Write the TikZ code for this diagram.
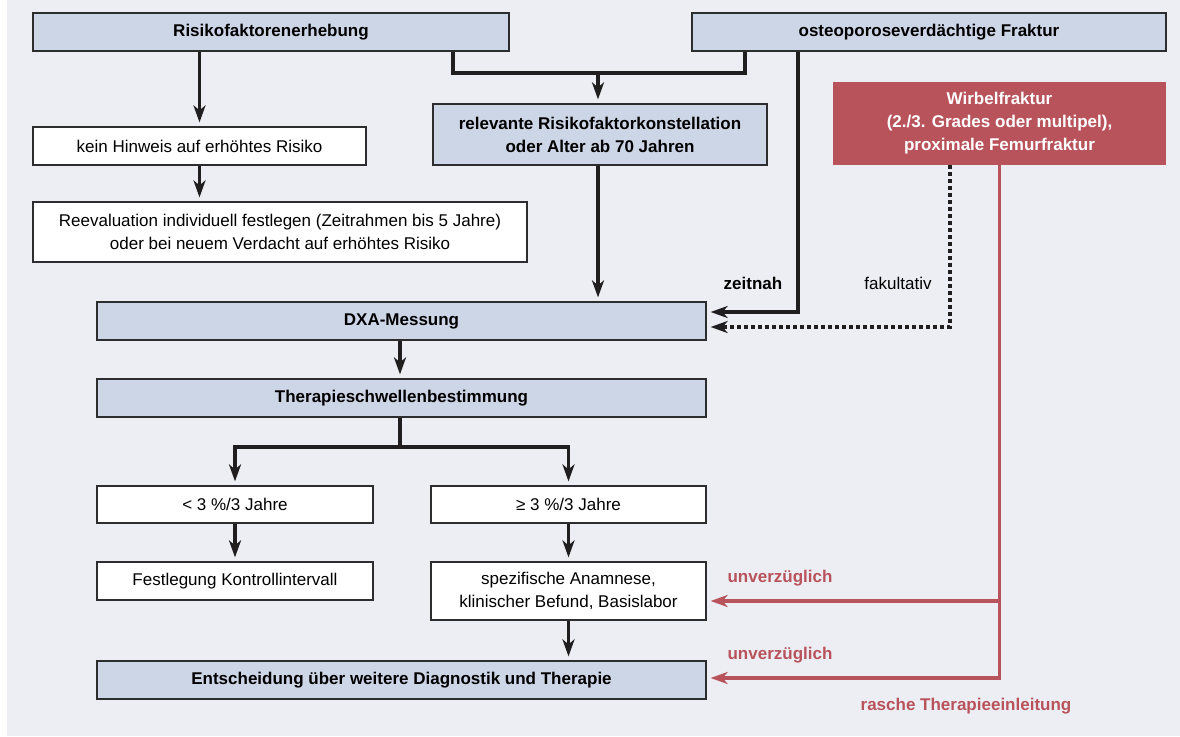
\documentclass[tikz,border=0pt]{standalone}
\usepackage{fontspec}
\setmainfont{Liberation Sans}
\usetikzlibrary{arrows.meta,positioning}
\definecolor{bg_fil}{RGB}{237, 238, 244}
\definecolor{blue_fil}{RGB}{205, 214, 230}
\definecolor{box_out}{RGB}{45, 45, 48}
\definecolor{red_fil}{RGB}{185, 83, 91}
\definecolor{line_col}{RGB}{32, 30, 30}
\newcommand\lw{3.3pt}
\newcommand\hgt{38pt}
\tikzset{blue_box/.style = {rectangle, inner sep=0pt, draw=box_out, fill=blue_fil, line width=1.2pt, align=center, minimum height=\hgt, font=\fontsize{17}{23}\selectfont\bfseries}}
\tikzset{white_box/.style = {blue_box, fill=white, font=\fontsize{17}{23}\selectfont}}
\tikzset{red_box/.style = {rectangle, inner sep=0pt, fill=red_fil, text=white, align=center, font=\fontsize{17}{23}\selectfont\bfseries}}
\tikzset{myline/.style = {line width=\lw, line_col}}
\tikzset{mypath/.style = {myline, -{Stealth[length=17pt,width=12pt,inset=5pt]}, shorten >=4pt}}
\tikzset{redpath/.style = {mypath, red_fil}}
\tikzset{dotpath/.style = {mypath, dash pattern=on 4pt off 3pt}}
\tikzset{lbl/.style = {inner sep=0pt, font=\fontsize{17}{23}\selectfont}}

\begin{document}
\begin{tikzpicture}[x=1pt, y=-1pt]
\useasboundingbox (0,0) rectangle (1180,736);
\fill[white] (0,0) rectangle (1180,736);
\fill[bg_fil] (7,0) rectangle (1180,736);

\node[blue_box, minimum width=476pt] (risiko) at (271,32) {Risikofaktorenerhebung};
\node[blue_box, minimum width=474pt] (fraktur) at (929,32) {osteoporoseverdächtige Fraktur};
\node[red_box, minimum width=333pt, minimum height=83pt] (wirbel) at (999.5,123.5) {Wirbelfraktur\\(2./3. Grades oder multipel),\\proximale Femurfraktur};
\node[blue_box, minimum width=334pt, minimum height=61pt] (relevant) at (600,134.5) {relevante Risikofaktorkonstellation\\oder Alter ab 70 Jahren};
\node[white_box, minimum width=333pt] (kein) at (199.5,146) {kein Hinweis auf erhöhtes Risiko};
\node[white_box, minimum width=494pt, minimum height=60pt] (reeval) at (280,232) {Reevaluation individuell festlegen (Zeitrahmen bis 5 Jahre)\\oder bei neuem Verdacht auf erhöhtes Risiko};
\node[blue_box, minimum width=609pt] (dxa) at (401.5,321) {DXA-Messung};
\node[blue_box, minimum width=609pt] (schwelle) at (401.5,398) {Therapieschwellenbestimmung};
\node[white_box, minimum width=276pt, minimum height=37pt] (unter) at (235,504.5) {< 3 \%/3 Jahre};
\node[white_box, minimum width=275pt, minimum height=37pt] (ueber) at (568.5,504.5) {≥ 3 \%/3 Jahre};
\node[white_box, minimum width=276pt] (festlegung) at (235,581) {Festlegung Kontrollintervall};
\node[white_box, minimum width=275pt, minimum height=58pt] (spezif) at (568.5,591) {spezifische Anamnese,\\klinischer Befund, Basislabor};
\node[blue_box, minimum width=609pt] (entscheid) at (401.5,680) {Entscheidung über weitere Diagnostik und Therapie};

% labels
\node[lbl, font=\fontsize{17}{23}\selectfont\bfseries] (zeitnah) at (753,283) {zeitnah};
\node[lbl] (fakultativ) at (898,283) {fakultativ};
\node[lbl, red_fil, font=\fontsize{17}{23}\selectfont\bfseries] (unv1) at (780,578) {unverzüglich};
\node[lbl, red_fil, font=\fontsize{17}{23}\selectfont\bfseries] (unv2) at (780,655) {unverzüglich};
\node[lbl, red_fil, font=\fontsize{17}{23}\selectfont\bfseries] (rasch) at (966,706) {rasche Therapieeinleitung};

\coordinate (join) at (598,73);
\coordinate (fork) at (400,447);

% left column
\draw[mypath] (risiko.south -| kein.north) -- (kein.north);
\draw[mypath] (kein.south) -- (reeval.north -| kein.south);

% merge into relevant
\draw[myline] ([xshift=182pt]risiko.south) |- ([xshift=147pt]join) -- ([xshift=-184pt]fraktur.south);
\draw[mypath] (join) -- (relevant.north -| join);
\draw[mypath] (relevant.south -| join) -- (dxa.north -| join);

% into dxa
\draw[mypath] ([xshift=-131pt]fraktur.south) |- ([yshift=9pt]dxa.east);
\draw[dotpath] ([xshift=-49.5pt]wirbel.south) |- ([yshift=-6pt]dxa.east);

% main column
\draw[mypath] (dxa.south -| fork) -- (schwelle.north -| fork);
\draw[myline] (schwelle.south -| fork) -- (fork);
\foreach \n in {unter, ueber}{
	\draw[mypath] (fork) -| (\n.north);
	}
\draw[mypath] (unter) -- (festlegung);
\draw[mypath] (ueber) -- (spezif);
\draw[mypath] (spezif.south) -- (entscheid.north -| spezif.south);

% red path
\path ([yshift=-10pt]spezif.east) coordinate (spez_in);
\path ([yshift=2pt]entscheid.east) coordinate (ent_in);
\draw[redpath] (wirbel.south) |- (ent_in);
\draw[redpath] (spez_in -| wirbel.south) -- (spez_in);
\end{tikzpicture}
\end{document}
